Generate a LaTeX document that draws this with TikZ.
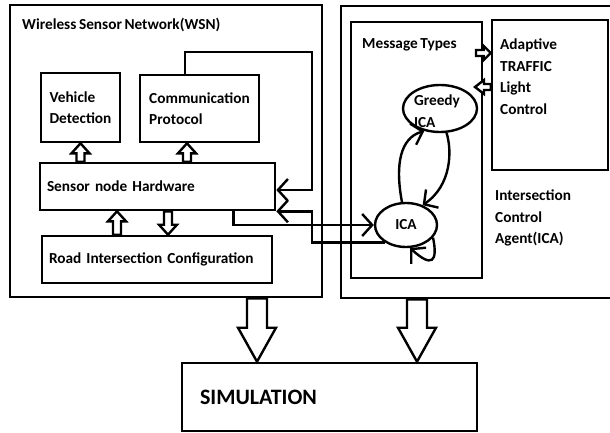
\documentclass[tikz,border=0pt]{standalone}
\usepackage{fontspec}
\setmainfont{Carlito}[WordSpace=0.75]
\usetikzlibrary{calc, arrows.meta, shapes.geometric}

\tikzset{
  box/.style={draw, line width=2.6pt, inner sep=0pt},
  agent/.style={draw, ellipse, line width=2.4pt, inner sep=0pt},
  link/.style={line width=2.4pt, -{Straight Barb[length=10pt, width=22pt, line width=2.4pt]}},
  blockline/.style={draw, line width=2.4pt, fill=white, line join=miter},
}

% outlined block arrow: tail, tip, half shaft, half head, head length
\newcommand{\blockarrow}[5]{%
  \coordinate (ba) at ($(#2)!#5!(#1)$);
  \draw[blockline] ($(#1)!#3!90:(#2)$) -- ($(ba)!#3!90:(#2)$) -- ($(ba)!#4!90:(#2)$) -- (#2)
    -- ($(ba)!#4!-90:(#2)$) -- ($(ba)!#3!-90:(#2)$) -- ($(#1)!#3!-90:(#2)$) -- cycle;
}

\begin{document}
\begin{tikzpicture}[x=1pt, y=-1pt, every node/.style={font=\bfseries\fontsize{15.3}{21.5}\selectfont}]
  \useasboundingbox (0,0) rectangle (610,433);
  % wireless sensor network
  \node[box, minimum width=312pt, minimum height=292pt] (wsn) at (166,151) {};
  \node[anchor=west, inner sep=0pt] (wsntitle) at (22,25) {Wireless Sensor Network(WSN)};
  \node[box, minimum width=79pt, minimum height=69pt, align=left] (vd) at (80.5,107.5) {Vehicle\\Detection};
  \node[box, minimum width=119pt, minimum height=67pt, align=left] (cp) at (199.5,108.5) {Communication\\Protocol};
  \node[box, text width=221pt, inner xsep=7pt, minimum height=47pt] (hw) at (157.5,186.5) {Sensor node Hardware};
  \node[box, text width=216pt, inner xsep=7pt, minimum height=47pt] (road) at (157,259.5) {Road Intersection Configuration};
  % intersection control agent
  \node[box, minimum width=279pt, minimum height=292pt] (agentbox) at (480.5,152) {};
  \node[box, minimum width=131pt, minimum height=256pt] (mt) at (416.5,150) {};
  \node[anchor=west, inner sep=0pt] (mttitle) at (362,45) {Message Types};
  \node[box, minimum width=116pt, minimum height=150pt] (atlc) at (550,95) {};
  \node[anchor=north west, inner sep=0pt, align=left] (atlctext) at (500,39) {Adaptive\\TRAFFIC\\Light\\Control};
  \node[anchor=west, inner sep=0pt, align=left] (icatitle) at (495,218) {Intersection\\Control\\Agent(ICA)};
  \node[agent, minimum width=74pt, minimum height=47pt] (greedy) at (440,108.5) {};
  \node[inner sep=0pt, align=left] (greedytext) at (437,111) {Greedy\\ICA};
  \node[agent, minimum width=62pt, minimum height=44pt] (ica) at (406,225) {ICA};
  % simulation
  \node[box, text width=259pt, inner xsep=18pt, minimum height=68pt, font=\bfseries\fontsize{22}{26}\selectfont] (sim) at (329.5,397) {SIMULATION};

  % feedback and agent links
  \coordinate (fbcorner) at (312,52);
  \coordinate (hwout) at ([xshift=-43pt]hw.south east);
  \draw[link] (185,0 |- cp.north) |- (fbcorner) |- (hw.east |- 0,190);
  \draw[link] (ica.220) -| (fbcorner |- hw.south east) -- (hw.south east);
  \draw[link] (hwout) |- (ica.west);
  \draw[link] (ica.100) .. controls (395,165) and (400,138) .. (greedy.235);
  \draw[link] (greedy.285) .. controls (452,150) and (452,185) .. (ica.50);
  \draw[link] (ica.-25) .. controls (438,262) and (432,268) .. (ica.-80);

  % block arrows inside the sensor network
  \coordinate (cpin) at ([xshift=-12.5pt]cp.south);
  \blockarrow{hw.north -| vd.south}{vd.south}{4pt}{9pt}{10pt}
  \blockarrow{hw.north -| cpin}{cpin}{4pt}{9pt}{10pt}
  \blockarrow{117,0 |- road.north}{117,0 |- hw.south}{4pt}{9pt}{10pt}
  \blockarrow{168,0 |- hw.south}{168,0 |- road.north}{4pt}{9pt}{10pt}
  % message types <-> traffic light control
  \coordinate (sigout) at (476,53);
  \coordinate (sigin) at (475,87);
  \blockarrow{sigout}{atlc.west |- sigout}{3pt}{7pt}{7pt}
  \blockarrow{atlc.west |- sigin}{sigin}{3pt}{7pt}{9pt}
  % into the simulation
  \blockarrow{257,0 |- wsn.south}{257,0 |- sim.north}{10pt}{19pt}{34pt}
  \blockarrow{417,0 |- agentbox.south}{417,0 |- sim.north}{10pt}{19pt}{34pt}
\end{tikzpicture}
\end{document}
